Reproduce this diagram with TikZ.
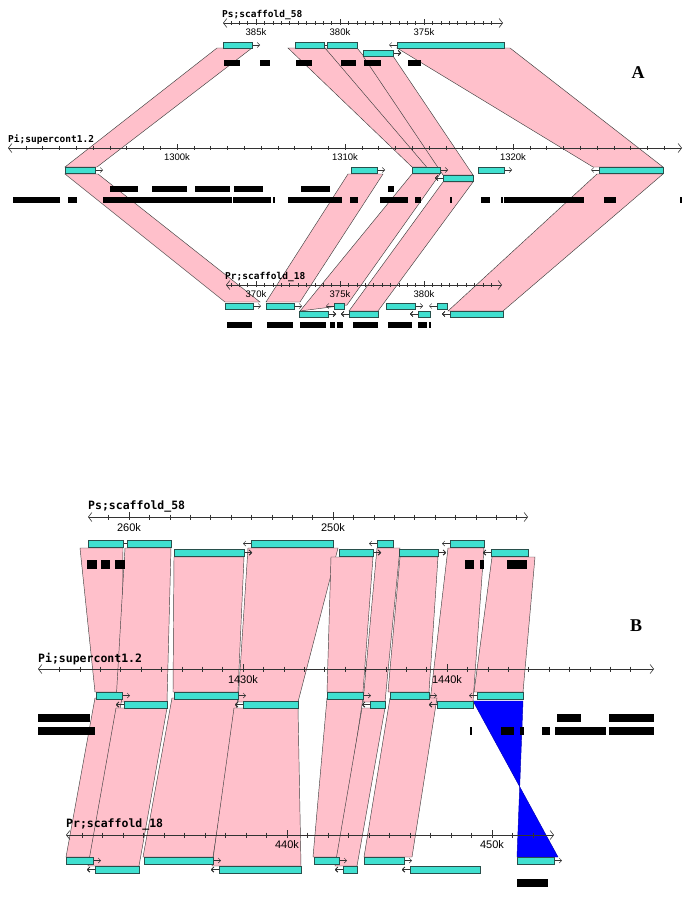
\documentclass[tikz,border=0pt]{standalone}
\usepackage{fontspec}
\setmainfont{Liberation Serif}
\setsansfont{Liberation Sans}
\setmonofont{DejaVu Sans Mono}
\usetikzlibrary{arrows.meta}
\definecolor{linkpink}{RGB}{255,192,203}
\definecolor{genecyan}{RGB}{64,224,208}
\definecolor{geneedge}{RGB}{40,80,76}
\tikzset{
  link/.style={fill=linkpink, draw=black!75, line width=0.45pt},
  invlink/.style={fill=blue, draw=blue!70!black, line width=0.45pt},
  gene/.style={fill=genecyan, draw=geneedge, line width=0.6pt},
  hit/.style={fill=black},
  seqaxis/.style={draw=black!80, line width=0.6pt,
    {Straight Barb[length=3.5pt,width=9pt]}-{Straight Barb[length=3.5pt,width=9pt]}},
  tickmark/.style={draw=black!80, line width=0.6pt},
  garrow/.style={draw=black!80, line width=0.5pt, -{Straight Barb[length=2.5pt,width=5pt]}},
  seqname/.style={inner sep=0pt, anchor=west, font=\ttfamily\bfseries\fontsize{#1}{#1}\selectfont},
  kblabel/.style={inner sep=0pt, font=\sffamily\fontsize{#1}{#1}\selectfont},
  panel/.style={inner sep=0pt, font=\bfseries\fontsize{18}{18}\selectfont}
}
% one gene: x1, x2, top y, direction (r/l/n); height in \gh
\newcommand\genebox[4]{%
  \if#4r\draw[garrow] (#2,#3+\gh/2) -- ++(8,0);\fi
  \if#4l\draw[garrow] (#1,#3+\gh/2) -- ++(-8,0);\fi
  \draw[gene] (#1,#3) rectangle (#2,#3+\gh);}

\begin{document}
\begin{tikzpicture}[x=1pt, y=-1pt]
\useasboundingbox (0,0) rectangle (685,905);

% ---------------- panel A ----------------
% links Ps -> Pi
\draw[link] (217,48) -- (252,48) -- (97,167) -- (65,167) -- cycle;
\draw[link] (288,48) -- (325,48) -- (440,167) -- (412,167) -- cycle;
\draw[link] (325,48) -- (357,48) -- (460,171) -- (430,171) -- cycle;
\draw[link] (363,56) -- (393,56) -- (473,175) -- (443,175) -- cycle;
\draw[link] (397,48) -- (510,48) -- (663,167) -- (593,167) -- cycle;
% links Pi -> Pr
\draw[link] (65,174) -- (98,174) -- (260,302) -- (225,302) -- cycle;
\draw[link] (348,174) -- (383,174) -- (300,302) -- (266,302) -- cycle;
\draw[link] (412,174) -- (440,174) -- (347,305) -- (300,311) -- cycle;
\draw[link] (443,182) -- (473,182) -- (378,311) -- (349,311) -- cycle;
\draw[link] (597,174) -- (663,174) -- (503,311) -- (448,311) -- cycle;

% Ps scaffold 58
\node[seqname=9.5] (psA) at (222,15) {Ps;scaffold\_58};
\draw[seqaxis] (223,23) -- (503,23);
\foreach \k in {-3,...,28}
  \draw[tickmark] ({256+8.4*(\k)},21) -- ({256+8.4*(\k)},25);
\foreach \x/\t [count=\i] in {256/385k, 340/380k, 424/375k} {
  \draw[tickmark] (\x,19) -- (\x,25);
  \node[kblabel=9.5] (psAk\i) at (\x,32) {\t};
}
\def\gh{6}
\foreach \a/\b/\d in {223/252/r, 295/324/r, 327/357/n, 397/504/l}
  \genebox{\a}{\b}{42}{\d}
\genebox{363}{393}{50}{r}
\foreach \a/\b in {224/240, 260/270, 296/312, 341/356, 364/381, 408/421}
  \fill[hit] (\a,60) rectangle (\b,66);

% Pi supercont 1.2
\node[seqname=9.5] (piA) at (8,140) {Pi;supercont1.2};
\draw[seqaxis] (8,148) -- (682,148);
\foreach \k in {-9,...,29}
  \draw[tickmark] ({177+16.8*(\k)},146) -- ({177+16.8*(\k)},150);
\foreach \x/\t [count=\i] in {177/1300k, 345/1310k, 513/1320k} {
  \draw[tickmark] (\x,144) -- (\x,150);
  \node[kblabel=9.5] (piAk\i) at (\x,157) {\t};
}
\foreach \a/\b/\d in {65/95/r, 351/377/r, 412/440/r, 478/504/r, 599/663/l}
  \genebox{\a}{\b}{167}{\d}
\genebox{443}{473}{175}{l}
\foreach \a/\b in {110/138, 152/187, 195/230, 234/263, 301/330, 388/394}
  \fill[hit] (\a,186) rectangle (\b,192);
\foreach \a/\b in {13/60, 68/77, 103/232, 233/271, 273/274.5, 288/342, 350/358,
                   380/408, 415/421, 450/451.5, 481/490, 501/502.5, 504/584,
                   604/616, 680/682}
  \fill[hit] (\a,197) rectangle (\b,203);

% Pr scaffold 18
\node[seqname=9.5] (prA) at (225,277) {Pr;scaffold\_18};
\draw[seqaxis] (226,285) -- (502,285);
\foreach \k in {-3,...,28}
  \draw[tickmark] ({256+8.4*(\k)},283) -- ({256+8.4*(\k)},287);
\foreach \x/\t [count=\i] in {256/370k, 340/375k, 424/380k} {
  \draw[tickmark] (\x,281) -- (\x,287);
  \node[kblabel=9.5] (prAk\i) at (\x,294) {\t};
}
\foreach \a/\b/\d in {225/253/r, 266/294/r, 334/344/l, 386/415/r, 437/447/l}
  \genebox{\a}{\b}{303}{\d}
\foreach \a/\b/\d in {299/328/r, 349/378/l, 418/430/l, 450/503/l}
  \genebox{\a}{\b}{311}{\d}
\foreach \a/\b in {227/252, 267/293, 300/326, 330/335, 337/343, 353/378,
                   388/412, 418/427, 429/431}
  \fill[hit] (\a,322) rectangle (\b,328);

\node[panel] (lblA) at (638,73) {A};

% ---------------- panel B ----------------
% links Ps -> Pi
\draw[link] (80,548) -- (123,548) -- (122,692) -- (95,692) -- cycle;
\draw[link] (125,548) -- (171,548) -- (167,702) -- (116,702) -- cycle;
\draw[link] (174,557) -- (244,557) -- (238,692) -- (173,692) -- cycle;
\draw[link] (248,548) -- (338,548) -- (298,702) -- (238,702) -- cycle;
\draw[link] (331,557) -- (373,557) -- (363,692) -- (327,692) -- cycle;
\draw[link] (377,548) -- (400,548) -- (385,702) -- (363,702) -- cycle;
\draw[link] (400,557) -- (438,557) -- (429,692) -- (388,692) -- cycle;
\draw[link] (448,548) -- (484,548) -- (473,702) -- (430,702) -- cycle;
\draw[link] (492,557) -- (535,557) -- (523,692) -- (474,692) -- cycle;
% links Pi -> Pr
\draw[link] (95,698) -- (122,698) -- (93,857) -- (66,857) -- cycle;
\draw[link] (116,708) -- (167,708) -- (139,866) -- (88,866) -- cycle;
\draw[link] (172,698) -- (238,698) -- (213,857) -- (143,857) -- cycle;
\draw[link] (234,708) -- (298,708) -- (301,866) -- (212,866) -- cycle;
\draw[link] (327,698) -- (363,698) -- (339,857) -- (313,857) -- cycle;
\draw[link] (362,708) -- (385,708) -- (357,866) -- (335,866) -- cycle;
\draw[link] (390,698) -- (437,698) -- (412,857) -- (364,857) -- cycle;
\draw[invlink] (473,701) -- (523,701) -- (517,857) -- (558,857) -- cycle;

% Ps scaffold 58
\node[seqname=11.5] (psB) at (88,506) {Ps;scaffold\_58};
\draw[seqaxis] (88,517) -- (528,517);
\foreach \k in {-1,...,19}
  \draw[tickmark] ({129+20.4*(\k)},514.5) -- ({129+20.4*(\k)},519.5);
\foreach \x/\t [count=\i] in {129/260k, 333/250k} {
  \draw[tickmark] (\x,512) -- (\x,519.5);
  \node[kblabel=11] (psBk\i) at (\x,528) {\t};
}
\def\gh{7}
\foreach \a/\b/\d in {88/123/r, 127/171/n, 251/333/l, 377/393/l, 450/484/l}
  \genebox{\a}{\b}{540}{\d}
\foreach \a/\b/\d in {174/244/r, 339/373/r, 399/438/r, 491/528/l}
  \genebox{\a}{\b}{549}{\d}
\foreach \a/\b in {87/97, 101/110, 115/125, 465/474, 480/484, 507/527}
  \fill[hit] (\a,560) rectangle (\b,569);

% Pi supercont 1.2
\node[seqname=11.5] (piB) at (38,659) {Pi;supercont1.2};
\draw[seqaxis] (38,669) -- (654,669);
\foreach \k in {-9,...,19}
  \draw[tickmark] ({243+20.4*(\k)},666.5) -- ({243+20.4*(\k)},671.5);
\foreach \x/\t [count=\i] in {243/1430k, 447/1440k} {
  \draw[tickmark] (\x,664) -- (\x,671.5);
  \node[kblabel=11] (piBk\i) at (\x,680) {\t};
}
\foreach \a/\b/\d in {96/122/r, 174/238/r, 327/363/r, 390/429/r, 477/523/l}
  \genebox{\a}{\b}{692}{\d}
\foreach \a/\b/\d in {124/167/l, 243/298/l, 370/385/l, 437/473/l}
  \genebox{\a}{\b}{701}{\d}
\foreach \a/\b in {38/90, 557/581, 609/654}
  \fill[hit] (\a,714) rectangle (\b,722);
\foreach \a/\b in {38/95, 470/472, 501/514, 520/523.5, 542/550, 555/606, 609/654}
  \fill[hit] (\a,727) rectangle (\b,735);

% Pr scaffold 18
\node[seqname=11.5] (prB) at (66,824) {Pr;scaffold\_18};
\draw[seqaxis] (66,835) -- (554,835);
\foreach \k in {-10,...,12}
  \draw[tickmark] ({287+20.5*(\k)},832.5) -- ({287+20.5*(\k)},837.5);
\foreach \x/\t [count=\i] in {287/440k, 492/450k} {
  \draw[tickmark] (\x,830) -- (\x,837.5);
  \node[kblabel=11] (prBk\i) at (\x,845) {\t};
}
\foreach \a/\b/\d in {66/93/r, 144/213/r, 314/339/r, 364/404/r, 517/554/r}
  \genebox{\a}{\b}{857}{\d}
\foreach \a/\b/\d in {95/139/l, 219/301/l, 343/357/l, 410/480/l}
  \genebox{\a}{\b}{866}{\d}
\fill[hit] (517,879) rectangle (548,887);

\node[panel] (lblB) at (636,626) {B};
\end{tikzpicture}
\end{document}
